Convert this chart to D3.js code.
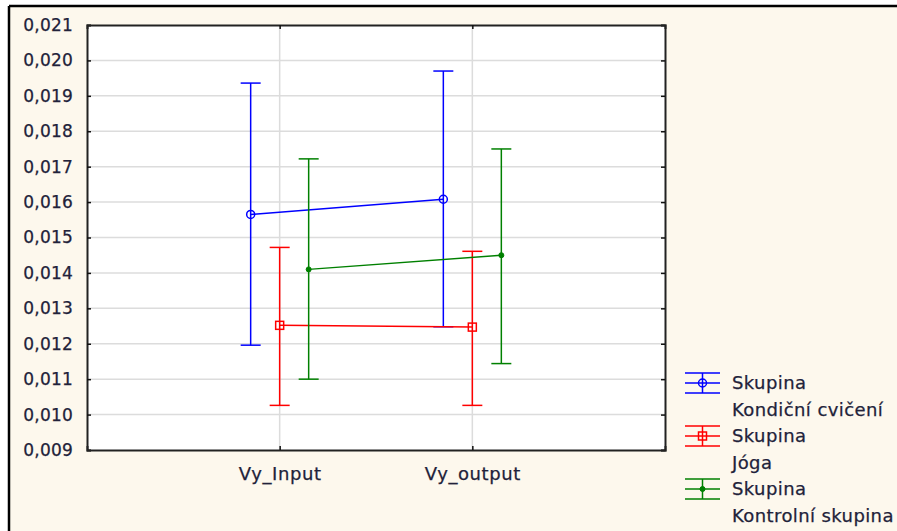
<!DOCTYPE html>
<html>
<head>
<meta charset="utf-8">
<script src="https://cdn.jsdelivr.net/npm/d3@7"></script>
<style>
  html, body { margin: 0; padding: 0; background: #ffffff; }
  svg { display: block; }
  text { font-family: "DejaVu Sans", Verdana, sans-serif; fill: #22223a; stroke: #22223a; stroke-width: 0.25px; }
</style>
</head>
<body>
<svg id="chart" width="897" height="531"></svg>
<script>
// Variables on the x axis
const categories = ["Vy_Input", "Vy_output"];
// Groups (legend line 2)
const groups = ["Kondiční cvičení", "Jóga", "Kontrolní skupina"];
const groupLabel = "Skupina";
// Means and confidence limits per group, one value per category
const means = [
  [0.01565, 0.01608],
  [0.01252, 0.01247],
  [0.01410, 0.01450]
];
const upper = [
  [0.01936, 0.01970],
  [0.01472, 0.01461],
  [0.01722, 0.01750]
];
const lower = [
  [0.01196, 0.01248],
  [0.01026, 0.01026],
  [0.01100, 0.01144]
];
const yTicks = [0.009, 0.010, 0.011, 0.012, 0.013, 0.014, 0.015, 0.016, 0.017, 0.018, 0.019, 0.020, 0.021];

const colors = ["#0000ff", "#ff0000", "#008000"];
const markers = ["circle", "square", "dot"];

const svg = d3.select("#chart");
const W = 897, H = 531;
const plot = { left: 87, top: 25, right: 665, bottom: 450 };

// background panel with black frame on top and left
svg.append("rect").attr("x", 9).attr("y", 6).attr("width", W - 9).attr("height", H - 6)
  .attr("fill", "#fdf8ed");
svg.append("line").attr("x1", 9).attr("x2", W).attr("y1", 6).attr("y2", 6)
  .attr("stroke", "#000").attr("stroke-width", 2.5);
svg.append("line").attr("x1", 9).attr("x2", 9).attr("y1", 6).attr("y2", H)
  .attr("stroke", "#000").attr("stroke-width", 2.5);

svg.append("rect").attr("x", plot.left).attr("y", plot.top)
  .attr("width", plot.right - plot.left).attr("height", plot.bottom - plot.top)
  .attr("fill", "#ffffff");

const x = d3.scalePoint().domain(categories).range([plot.left, plot.right]).padding(1);
const dx = d3.scalePoint().domain(d3.range(groups.length)).range([-29, 29]);
const y = d3.scaleLinear().domain([0.009, 0.021]).range([plot.bottom, plot.top]);
const fmt = v => d3.format(".3f")(v).replace(".", ",");

// grid
const grid = svg.append("g").attr("stroke", "#dcdcdc").attr("stroke-width", 1.5);
grid.selectAll(".gy").data(yTicks.slice(1, -1)).join("line")
  .attr("x1", plot.left).attr("x2", plot.right)
  .attr("y1", d => y(d)).attr("y2", d => y(d));
grid.selectAll(".gx").data(categories).join("line")
  .attr("x1", d => x(d)).attr("x2", d => x(d))
  .attr("y1", plot.top).attr("y2", plot.bottom);

// axes with inward ticks on all sides
const axL = d3.axisLeft(y).tickValues(yTicks).tickSize(-4).tickPadding(14).tickFormat(fmt);
const axR = d3.axisRight(y).tickValues(yTicks).tickSize(-4).tickFormat("");
const axB = d3.axisBottom(x).tickSize(-4).tickPadding(17);
const axT = d3.axisTop(x).tickSize(-4).tickFormat("");

function styleAxis(g, size, spacing) {
  g.select(".domain").attr("stroke", "#222").attr("stroke-width", 2);
  g.selectAll(".tick line").attr("stroke", "#111").attr("stroke-width", 1.5);
  g.selectAll("text").attr("font-size", size).attr("letter-spacing", spacing)
    .attr("font-family", "DejaVu Sans, sans-serif").attr("fill", "#22223a");
}
svg.append("g").attr("transform", `translate(${plot.left},0)`).call(axL).call(styleAxis, 17, 0.2);
svg.append("g").attr("transform", `translate(${plot.right},0)`).call(axR).call(styleAxis, 17, 0);
svg.append("g").attr("transform", `translate(0,${plot.bottom})`).call(axB).call(styleAxis, 18, 0.6);
svg.append("g").attr("transform", `translate(0,${plot.top})`).call(axT).call(styleAxis, 17, 0);

// marker helper
function drawMarker(g, kind, cx, cy, color) {
  if (kind === "circle") {
    g.append("circle").attr("cx", cx).attr("cy", cy).attr("r", 4)
      .attr("fill", "none").attr("stroke", color).attr("stroke-width", 1.5);
  } else if (kind === "square") {
    g.append("rect").attr("x", cx - 4).attr("y", cy - 4).attr("width", 8).attr("height", 8)
      .attr("fill", "none").attr("stroke", color).attr("stroke-width", 1.5);
  } else {
    g.append("circle").attr("cx", cx).attr("cy", cy).attr("r", 2.5)
      .attr("fill", color).attr("stroke", color).attr("stroke-width", 1);
  }
}

// series: whiskers, connecting line, markers
const capHalf = 10;
groups.forEach((grp, gi) => {
  const g = svg.append("g").attr("stroke", colors[gi]).attr("fill", "none");
  const pts = categories.map((c, ci) => ({ px: x(c) + dx(gi), m: means[gi][ci], lo: lower[gi][ci], hi: upper[gi][ci] }));
  pts.forEach(p => {
    g.append("line").attr("x1", p.px).attr("x2", p.px).attr("y1", y(p.lo)).attr("y2", y(p.hi))
      .attr("stroke-width", 1.5);
    [p.lo, p.hi].forEach(v => {
      g.append("line").attr("x1", p.px - capHalf).attr("x2", p.px + capHalf)
        .attr("y1", y(v)).attr("y2", y(v)).attr("stroke-width", 1.5);
    });
  });
  g.append("path").datum(pts)
    .attr("d", d3.line().x(p => p.px).y(p => y(p.m)))
    .attr("stroke-width", 1.5);
  pts.forEach(p => drawMarker(g, markers[gi], p.px, y(p.m), colors[gi]));
});

// legend
const legend = svg.append("g").attr("transform", "translate(685,383)");
groups.forEach((grp, gi) => {
  const row = legend.append("g").attr("transform", `translate(0,${gi * 53})`)
    .attr("stroke", colors[gi]).attr("fill", "none");
  [-10, 0, 10].forEach(oy => {
    row.append("line").attr("x1", 0).attr("x2", 35).attr("y1", oy).attr("y2", oy).attr("stroke-width", 1.5);
  });
  row.append("line").attr("x1", 17.5).attr("x2", 17.5).attr("y1", -10).attr("y2", 10).attr("stroke-width", 1.5);
  drawMarker(row, markers[gi], 17.5, 0, colors[gi]);
  const t = legend.append("g").attr("transform", `translate(47,${gi * 53})`)
    .attr("font-size", 18).attr("letter-spacing", 0.4);
  t.append("text").attr("y", 0).attr("dy", "0.35em").text(groupLabel);
  t.append("text").attr("y", 27).attr("dy", "0.35em").text(grp);
});
</script>
</body>
</html>
